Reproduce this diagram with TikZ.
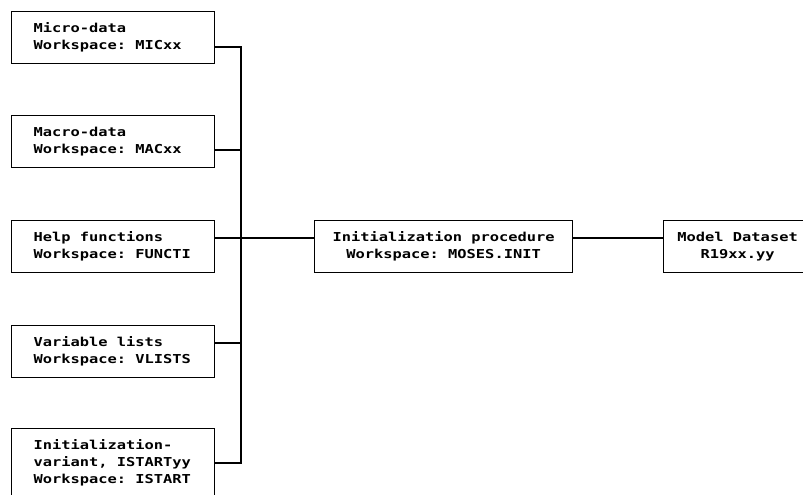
\documentclass[tikz,border=0pt]{standalone}
\usepackage{fontspec}
\newfontfamily\plotfont[FakeStretch=1.25]{DejaVu Sans Mono}
\newcommand\plotsetup{\plotfont\bfseries\fontsize{12.3bp}{17bp}\selectfont\frenchspacing}
\newcommand\plotspaces{\setbox0\hbox{x}\spaceskip=\wd0\relax\xspaceskip=\wd0\relax}
\begin{document}
\begin{tikzpicture}[x=1bp,y=-1bp,
  line width=1.2bp,
  every node/.style={font=\plotsetup, execute at begin node=\plotspaces},
  srcbox/.style={draw, anchor=north west, inner xsep=22bp, inner ysep=0bp,
    text width=159bp, align=left, minimum width=203bp, minimum height=52bp},
  midbox/.style={draw, anchor=north west, inner sep=0bp, align=center,
    minimum height=52bp}
]
\useasboundingbox (0,0) rectangle (803,495);
\clip (0,0) rectangle (803,495);
\node[srcbox] (b1) at (11,11) {Micro-data\\Workspace: MICxx};
\node[srcbox] (b2) at (11,115) {Macro-data\\Workspace: MACxx};
\node[srcbox] (b3) at (11,220) {Help functions\\Workspace: FUNCTI};
\node[srcbox] (b4) at (11,325) {Variable lists\\Workspace: VLISTS};
\node[srcbox, minimum height=68bp] (b5) at (11,428) {Initialization-\\variant, ISTARTyy\\Workspace: ISTART};
\node[midbox, minimum width=258bp] (init) at (314,220) {Initialization procedure\\Workspace: MOSES.INIT};
\node[midbox, minimum width=148bp] (model) at (663,220) {Model Dataset\\R19xx.yy};
\coordinate (t1) at (241,47);
\coordinate (t2) at (241,150);
\coordinate (t3) at (241,238);
\coordinate (t4) at (241,343);
\coordinate (t5) at (241,463);
\draw (b1.east |- t1) -- (t1) -- (t5) -- (b5.east |- t5);
\draw (b2.east |- t2) -- (t2);
\draw (b4.east |- t4) -- (t4);
\draw (b3.east |- t3) -- (init.west |- t3);
\draw (init.east |- t3) -- (model.west |- t3);
\end{tikzpicture}
\end{document}
